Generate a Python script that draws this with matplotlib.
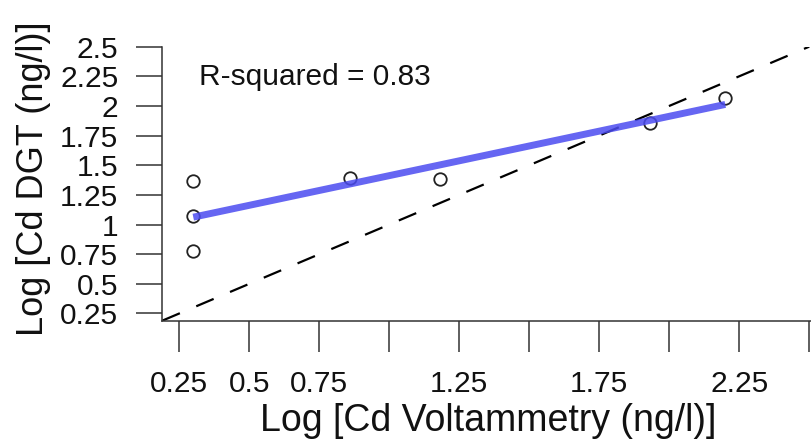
import numpy as np
import matplotlib
matplotlib.use("Agg")
import matplotlib.pyplot as plt

plt.rcParams['font.family'] = ['Liberation Sans', 'DejaVu Sans']

# Log Cd concentrations: voltammetry (x) vs DGT (y)
log_cd_voltammetry = [0.30, 0.30, 0.30, 0.86, 1.18, 1.93, 2.20]
log_cd_dgt = [1.37, 1.07, 0.78, 1.39, 1.38, 1.86, 2.07]

r_squared_text = "R-squared = 0.83"

x_ticks = [0.25, 0.5, 0.75, 1.0, 1.25, 1.5, 1.75, 2.0, 2.25, 2.5]
x_tick_labels = ["0.25", "0.5", "0.75", "", "1.25", "", "1.75", "", "2.25", ""]
y_ticks = [0.25, 0.5, 0.75, 1.0, 1.25, 1.5, 1.75, 2.0, 2.25, 2.5]
y_tick_labels = ["0.25", "0.5", "0.75", "1", "1.25", "1.5", "1.75", "2", "2.25", "2.5"]

x = np.array(log_cd_voltammetry)
y = np.array(log_cd_dgt)

fig = plt.figure(figsize=(8.12, 4.42), dpi=100)
ax = fig.add_axes([0.2001, 0.2747, 0.831, 0.6198])

# 1:1 reference line
ax.axline((0, 0), (1, 1), color='black', lw=1.6, linestyle=(0, (8.5, 8)), zorder=1)

# observations
ax.plot(x, y, 'o', ms=9, mfc='none', mec='#222222', mew=1.3, zorder=2)

# least-squares fit over the data range
slope, intercept = np.polyfit(x, y, 1)
xs = np.array([x.min(), x.max()])
ax.plot(xs, intercept + slope * xs, color='#4b4bf0', lw=5, alpha=0.85,
        solid_capstyle='butt', zorder=3)

ax.text(0.32, 2.177, r_squared_text, fontsize=21.5, ha='left', va='baseline',
        color='#111111')

ax.set_xlim(0.19, 2.6)
ax.set_ylim(0.19, 2.5)

ax.set_xticks(x_ticks)
ax.set_xticklabels(x_tick_labels)
ax.set_yticks(y_ticks)
ax.set_yticklabels(y_tick_labels)

for side in ['top', 'right']:
    ax.spines[side].set_visible(False)
for side in ['left', 'bottom']:
    ax.spines[side].set_linewidth(1.1)
    ax.spines[side].set_color('#333333')

ax.tick_params(axis='x', length=22, width=1.1, pad=13.5, labelsize=21.5,
               color='#333333', labelcolor='#111111')
ax.tick_params(axis='y', length=18.7, width=1.1, pad=13, labelsize=21.5,
               color='#333333', labelcolor='#111111')

ax.set_xlabel("Log [Cd Voltammetry (ng/l)]", fontsize=27, color='#111111')
ax.set_ylabel("Log [Cd DGT (ng/l)]", fontsize=26, color='#111111')
ax.xaxis.set_label_coords(0.482, -0.30)
ax.yaxis.set_label_coords(-0.165, 0.517)

fig.savefig("out.png", dpi=100)
